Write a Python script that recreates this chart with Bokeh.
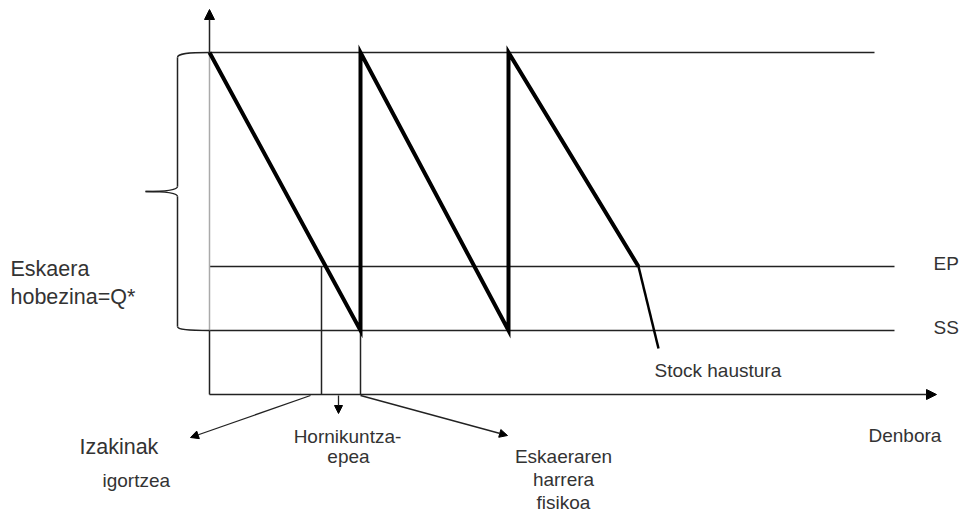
from bokeh.plotting import figure
from bokeh.models import Range1d, Arrow, NormalHead, ColumnDataSource
from bokeh.core.properties import value
from bokeh.embed import file_html
from bokeh.resources import INLINE

# ---- data (time units on x, stock units on y) ----
Q_LEVEL = 342      # maximum stock (SS + Q*)
EP_LEVEL = 128     # reorder point
SS_LEVEL = 64      # safety stock
T_END_TOP = 665    # end of the Q* reference line
T_END_LEVELS = 685 # end of EP / SS reference lines
T_AXIS_END = 727   # end of time axis
STOCK_AXIS_END = 385

saw_t = [0, 151, 151, 299, 299, 429]
saw_s = [342, 64, 342, 64, 342, 128]
stockout_t = [429, 449]
stockout_s = [128, 46]

reorder_t = 112    # order placed (stock reaches EP)
receipt_t = 151    # order physically received

# callout arrows below the time axis
call_x0 = [101, 129, 151]
call_y0 = [-1, -1, -1]
call_x1 = [-19, 129, 298]
call_y1 = [-43, -19, -41]

# texts
big_txt = ["Eskaera", "hobezina=Q*", "Izakinak"]
big_x = [-199, -199, -130]
big_y = [126, 98, -52]

lvl_txt = ["EP", "SS", "Denbora"]
lvl_x = [724, 724, 659]
lvl_y = [131, 67, -41]

mid_txt = ["Stock haustura", "igortzea"]
mid_x = [445, -107]
mid_y = [24, -86]

ctr_txt = ["Hornikuntza-", "epea", "Eskaeraren", "harrera", "fisikoa"]
ctr_x = [138, 139, 354, 354, 354]
ctr_y = [-42, -62, -62, -85, -108]

FONT = value("Liberation Sans")
TXT_COL = "#333333"
LINE_COL = "#222222"

p = figure(width=959, height=512, output_backend="svg", toolbar_location=None,
           x_range=Range1d(-209, 750), y_range=Range1d(-118, 394),
           x_axis_type=None, y_axis_type=None, min_border=0,
           min_border_left=0, min_border_right=0, min_border_top=0, min_border_bottom=0)
p.grid.visible = False
p.outline_line_color = None
p.background_fill_color = "white"
p.border_fill_color = "white"

# reference horizontal levels
p.line([0, T_END_TOP], [Q_LEVEL, Q_LEVEL], line_color=LINE_COL, line_width=1.5)
p.line([0, T_END_LEVELS], [EP_LEVEL, EP_LEVEL], line_color=LINE_COL, line_width=1.5)
p.line([0, T_END_LEVELS], [SS_LEVEL, SS_LEVEL], line_color=LINE_COL, line_width=1.5)

# stock axis
p.line([0, 0], [SS_LEVEL, Q_LEVEL], line_color="#aaaaaa", line_width=1.5)
p.line([0, 0], [0, SS_LEVEL], line_color=LINE_COL, line_width=1.5)

# vertical markers for lead time
p.line([reorder_t, reorder_t], [0, EP_LEVEL], line_color=LINE_COL, line_width=1.5)
p.line([receipt_t, receipt_t], [0, SS_LEVEL], line_color=LINE_COL, line_width=1.5)

# sawtooth
p.line(saw_t, saw_s, line_color="black", line_width=4, line_join="miter")
p.line(stockout_t, stockout_s, line_color="black", line_width=2.5)

# brace
mid = (Q_LEVEL + SS_LEVEL) / 2
bx = -32
tipx = -64
p.bezier(x0=[0, bx, bx, bx], y0=[Q_LEVEL, mid + 5, mid - 5, SS_LEVEL + 4],
         x1=[bx, tipx, tipx, 0], y1=[Q_LEVEL - 5, mid, mid, SS_LEVEL],
         cx0=[-22, bx, bx, bx], cy0=[Q_LEVEL, mid + 1, mid - 1, SS_LEVEL + 1],
         cx1=[bx, -48, -48, -22], cy1=[Q_LEVEL - 1, mid, mid, SS_LEVEL],
         line_color=LINE_COL, line_width=1.5)
p.line([bx, bx], [Q_LEVEL - 5, mid + 5], line_color=LINE_COL, line_width=1.5)
p.line([bx, bx], [mid - 5, SS_LEVEL + 4], line_color=LINE_COL, line_width=1.5)

# axes arrows
p.add_layout(Arrow(x_start=0, y_start=Q_LEVEL, x_end=0, y_end=STOCK_AXIS_END,
                   line_color=LINE_COL, line_width=1.5,
                   end=NormalHead(size=10, fill_color="black", line_color="black")))
p.add_layout(Arrow(x_start=0, y_start=0, x_end=T_AXIS_END, y_end=0,
                   line_color=LINE_COL, line_width=1.5,
                   end=NormalHead(size=10, fill_color="black", line_color="black")))

call_src = ColumnDataSource(dict(x0=call_x0, y0=call_y0, x1=call_x1, y1=call_y1))
p.add_layout(Arrow(x_start="x0", y_start="y0", x_end="x1", y_end="y1", source=call_src,
                   line_color=LINE_COL, line_width=1.3,
                   end=NormalHead(size=8, fill_color="black", line_color="black")))

# texts
p.text(x=big_x, y=big_y, text=big_txt, text_font=FONT, text_font_size="21.5px",
       text_color=TXT_COL, text_baseline="alphabetic", text_align="left")
p.text(x=lvl_x, y=lvl_y, text=lvl_txt, text_font=FONT, text_font_size="19px",
       text_color=TXT_COL, text_baseline="alphabetic", text_align="left")
p.text(x=mid_x, y=mid_y, text=mid_txt, text_font=FONT, text_font_size="19px",
       text_color=TXT_COL, text_baseline="alphabetic", text_align="left")
p.text(x=ctr_x, y=ctr_y, text=ctr_txt, text_font=FONT, text_font_size="19px",
       text_color=TXT_COL, text_baseline="alphabetic", text_align="center")

open("out.html", "w").write(file_html(p, INLINE))
